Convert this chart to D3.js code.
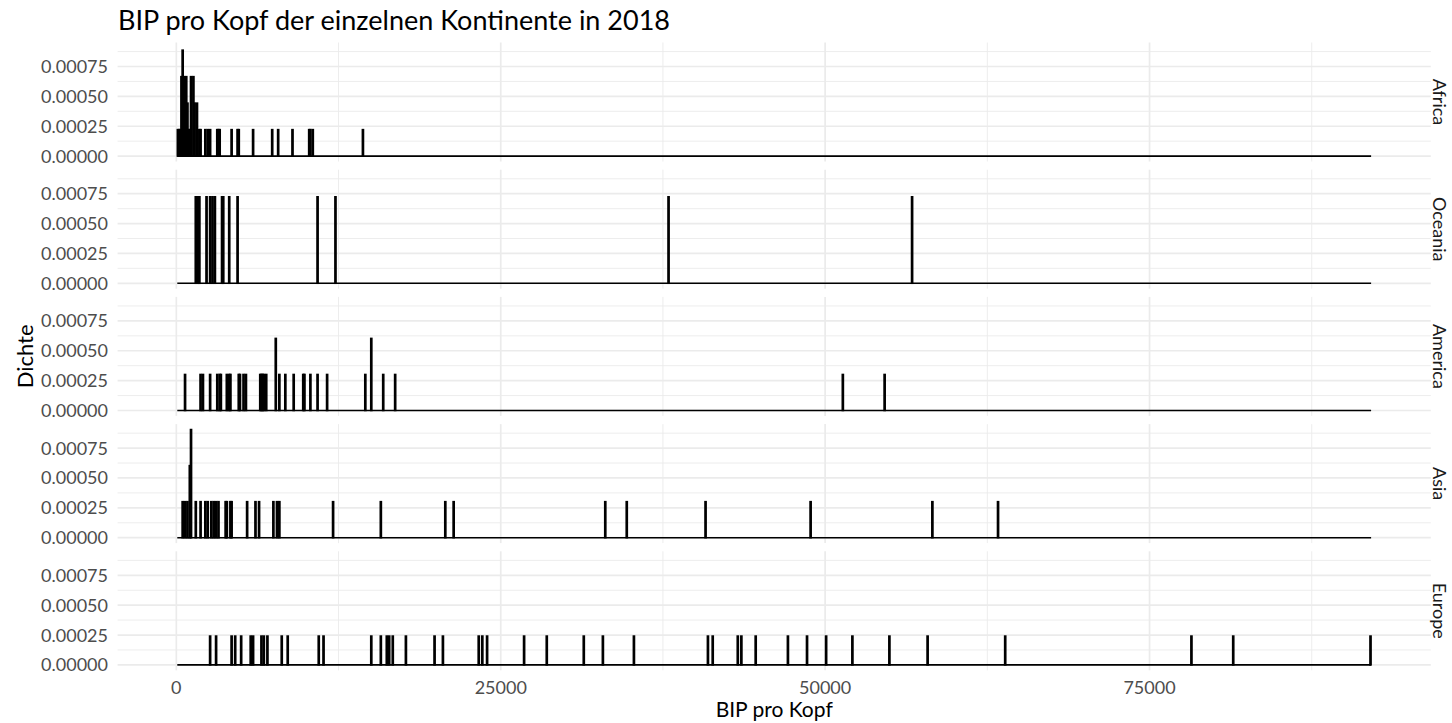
<!DOCTYPE html>
<html><head><meta charset="utf-8">
<script src="https://cdn.jsdelivr.net/npm/d3@7"></script>
<style>body{margin:0;background:#fff;overflow:hidden} text{font-family:Lato,"Open Sans",sans-serif}</style>
</head><body><svg id="c" width="1452" height="723"></svg>
<script>
// ---- data (GDP per capita values) ----
const continents = ["Africa", "Oceania", "America", "Asia", "Europe"];
const africa = [120, 210, 300, 390, 400, 410, 470, 480, 490, 500, 560, 580, 600, 740, 760, 780, 840, 870, 950, 1040,
  1110, 1130, 1150, 1300, 1320, 1340, 1390, 1420, 1580, 1600, 1780, 1870, 2240, 2420, 2600, 3160, 3250, 3340, 4260, 4720,
  4810, 5920, 7390, 7850, 8950, 10240, 10330, 10520, 14380];
const oceania = [1500, 1680, 1780, 2330, 2600, 2790, 2970, 3520, 3620, 4080, 4720, 10880, 12260, 37930, 56700];
const america = [670, 1870, 2050, 2600, 3160, 3340, 3430, 3890, 4080, 4170, 4810, 4900, 5180, 5360, 6470, 6560, 6650, 6740,
  6930, 7650, 7680, 7940, 8400, 9040, 9780, 9870, 10330, 10880, 11620, 14560, 15010, 15040, 15940, 16860, 51360, 54580];
const asia = [490, 670, 860, 1030, 1050, 1110, 1130, 1150, 1500, 1870, 2240, 2420, 2700, 2880, 3060, 3250, 3800, 3890, 4170,
  4260, 5460, 6100, 6380, 7480, 7760, 7940, 12080, 15760, 20730, 21370, 33060, 34710, 40780, 48880, 58260, 63320];
const europe = [2600, 3060, 4260, 4540, 5000, 5730, 5920, 6560, 6740, 7020, 8120, 8580, 10980, 11340, 15020, 15760, 16220,
  16400, 16680, 17690, 19900, 20540, 23300, 23580, 23950, 26800, 28550, 31400, 32870, 35260, 40970, 41340, 43270, 43540,
  44650, 47130, 48600, 50080, 52100, 54950, 57900, 63880, 78230, 81450, 92030];
const seriesValues = [africa, oceania, america, asia, europe];
const xTicks = [0, 25000, 50000, 75000];
const xMinor = [12500, 37500, 62500, 87500];
const yTicks = [0, 0.00025, 0.0005, 0.00075];
const yMinor = [0.000125, 0.000375, 0.000625, 0.000875];
const nBins = 1000;
const titleText = "BIP pro Kopf der einzelnen Kontinente in 2018";
const xTitle = "BIP pro Kopf";
const yTitle = "Dichte";

// ---- layout ----
const L = 117.6, R = 1430.8, T0 = 42.5, PH = 119, GAP = 8.2;
const svg = d3.select("#c");

const all = d3.merge(seriesValues);
const mn = d3.min(all), mx = d3.max(all);
const bw = (mx - mn) / (nBins - 1);
const lo = mn - bw / 2, hi = mx + bw / 2;
const edges = d3.range(1, nBins).map(i => lo + i * bw);
const binner = d3.bin().domain([lo, hi]).thresholds(edges);

const panels = seriesValues.map((vals, i) => {
  const bins = binner(vals);
  bins.forEach(b => { b.density = b.length / (vals.length * (b.x1 - b.x0)); });
  return { name: continents[i], bins, n: vals.length };
});
const yMax = d3.max(panels, p => d3.max(p.bins, b => b.density));
const span = hi - lo;
const x = d3.scaleLinear().domain([lo - 0.05 * span, hi + 0.05 * span]).range([L, R]);

panels.forEach((p, i) => {
  const top = T0 + i * (PH + GAP);
  const y = d3.scaleLinear().domain([-0.05 * yMax, 1.05 * yMax]).range([top + PH, top]);
  const g = svg.append("g");
  // minor grid
  g.selectAll(".ymin").data(yMinor.filter(v => v <= 1.05 * yMax)).join("line")
    .attr("x1", L).attr("x2", R).attr("y1", d => y(d)).attr("y2", d => y(d))
    .attr("stroke", "#ebebeb").attr("stroke-width", 0.9);
  g.selectAll(".xmin").data(xMinor).join("line")
    .attr("x1", d => x(d)).attr("x2", d => x(d)).attr("y1", top).attr("y2", top + PH)
    .attr("stroke", "#ebebeb").attr("stroke-width", 0.9);
  // major grid
  g.selectAll(".ymaj").data(yTicks).join("line")
    .attr("x1", L).attr("x2", R).attr("y1", d => y(d)).attr("y2", d => y(d))
    .attr("stroke", "#ebebeb").attr("stroke-width", 1.7);
  g.selectAll(".xmaj").data(xTicks).join("line")
    .attr("x1", d => x(d)).attr("x2", d => x(d)).attr("y1", top).attr("y2", top + PH)
    .attr("stroke", "#ebebeb").attr("stroke-width", 1.7);
  // baseline (outline of empty bins)
  g.append("line").attr("x1", x(lo)).attr("x2", x(hi)).attr("y1", y(0)).attr("y2", y(0))
    .attr("stroke", "#000").attr("stroke-width", 1.6);
  // bars
  g.selectAll(".bar").data(p.bins.filter(b => b.length > 0)).join("rect")
    .attr("x", b => x(b.x0)).attr("width", b => x(b.x1) - x(b.x0))
    .attr("y", b => y(b.density)).attr("height", b => y(0) - y(b.density))
    .attr("fill", "#000").attr("stroke", "#000").attr("stroke-width", 1.5);
  // y tick labels
  g.selectAll(".yl").data(yTicks).join("text")
    .attr("x", 108).attr("y", d => y(d)).attr("dy", "0.36em")
    .attr("text-anchor", "end").attr("font-size", 18).attr("fill", "#4d4d4d")
    .text(d => d3.format(".5f")(d));
  // strip label
  const cy = top + PH / 2;
  g.append("text").attr("x", 1433).attr("y", cy)
    .attr("transform", `rotate(90,1433,${cy})`)
    .attr("text-anchor", "middle").attr("font-size", 18).attr("fill", "#1a1a1a")
    .text(p.name);
});

// x tick labels
svg.selectAll(".xl").data(xTicks).join("text")
  .attr("x", d => x(d)).attr("y", 694).attr("text-anchor", "middle")
  .attr("font-size", 18).attr("fill", "#4d4d4d").text(d => d);
// titles
svg.append("text").attr("x", 118).attr("y", 30).attr("font-size", 27).attr("fill", "#000").text(titleText);
svg.append("text").attr("x", (L + R) / 2).attr("y", 716.5).attr("text-anchor", "middle")
  .attr("font-size", 21).attr("fill", "#000").text(xTitle);
svg.append("text").attr("transform", `translate(33,${T0 + (5 * PH + 4 * GAP) / 2}) rotate(-90)`)
  .attr("text-anchor", "middle").attr("font-size", 22).attr("fill", "#000").text(yTitle);
</script></body></html>
